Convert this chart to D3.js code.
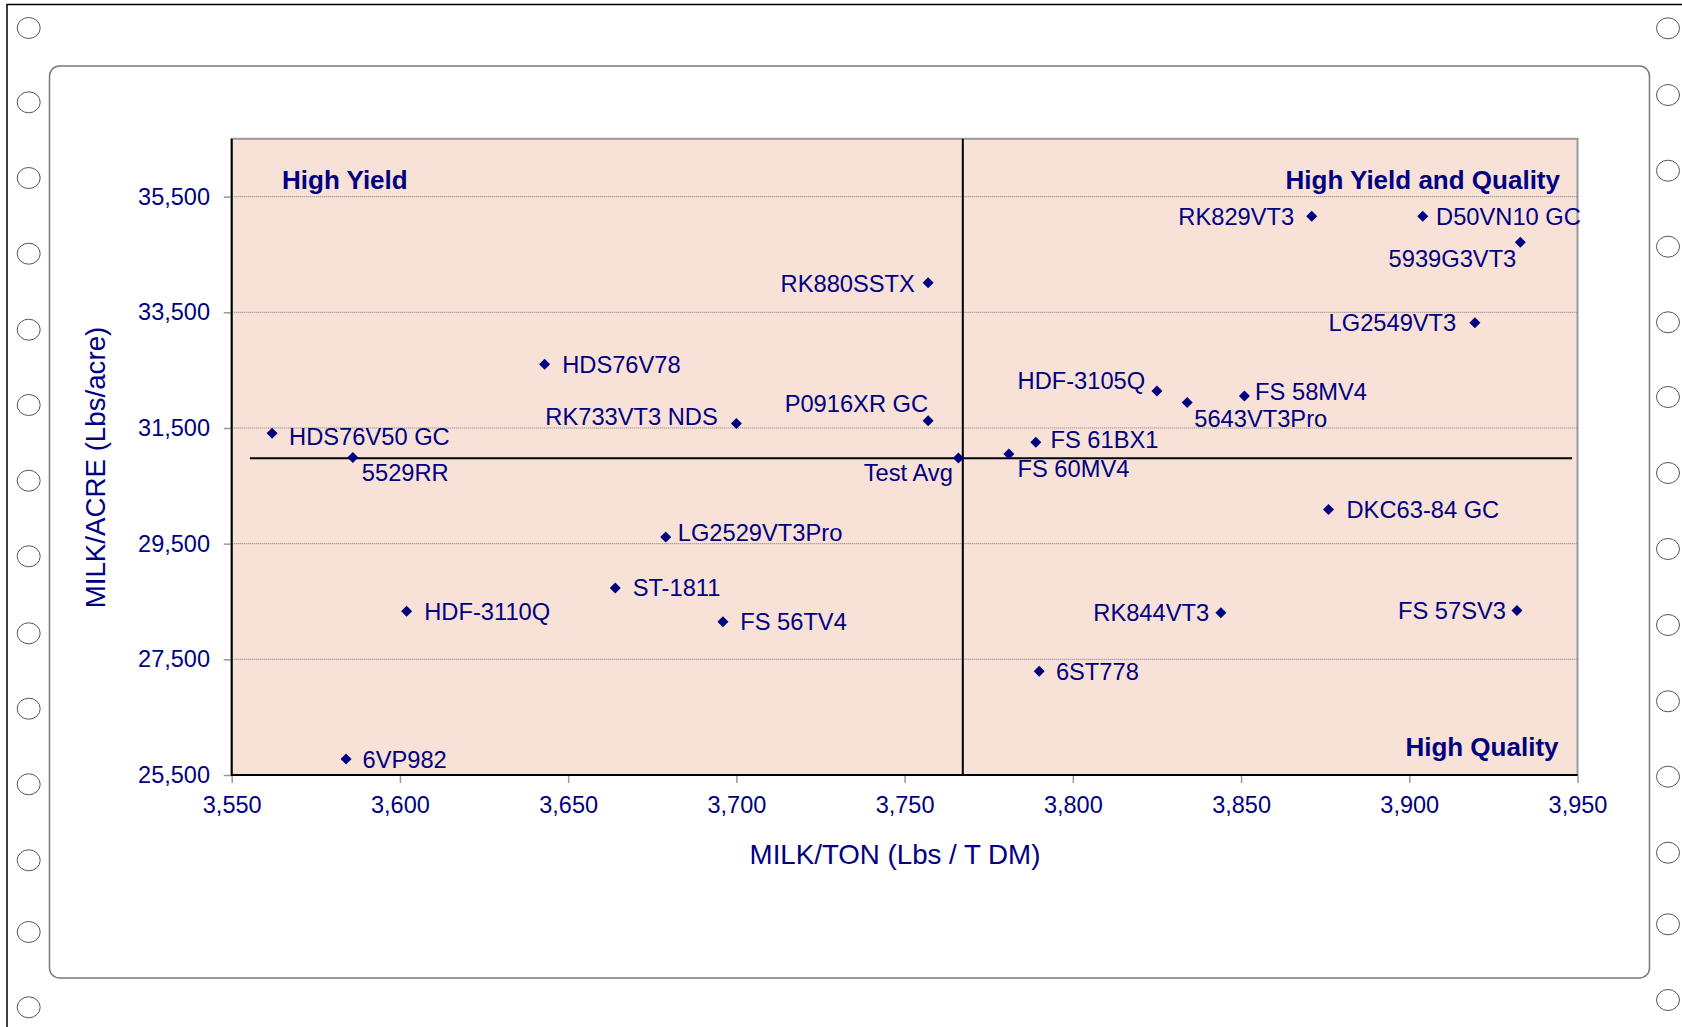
<!DOCTYPE html>
<html>
<head>
<meta charset="utf-8">
<script src="https://cdn.jsdelivr.net/npm/d3@7"></script>
<style>
  body { margin: 0; background: #fff; }
  text { font-family: "Liberation Sans", Arial, sans-serif; fill: #000080; }
</style>
</head>
<body>
<svg id="chart"></svg>
<script>
// hybrid names
const names = ['HDS76V50 GC', '5529RR', 'HDS76V78', 'RK733VT3 NDS', 'P0916XR GC', 'RK880SSTX',
    'Test Avg', 'LG2529VT3Pro', 'ST-1811', 'HDF-3110Q', 'FS 56TV4', '6VP982',
    'FS 60MV4', 'FS 61BX1', 'HDF-3105Q', '5643VT3Pro', 'FS 58MV4', 'DKC63-84 GC',
    'RK844VT3', 'FS 57SV3', '6ST778', 'RK829VT3', 'D50VN10 GC', '5939G3VT3', 'LG2549VT3'];
// milk per ton (x)
const milkTon = [3562, 3586, 3643, 3700, 3757, 3757,
    3766, 3679, 3664, 3602, 3696, 3584,
    3781, 3789, 3825, 3834, 3851, 3876,
    3844, 3932, 3790, 3871, 3904, 3933, 3919.5];
// milk per acre (y)
const milkAcre = [31407, 30988, 32603, 31579, 31626, 34010,
    30983, 29614, 28734, 28333, 28150, 25776,
    31052, 31252, 32138, 31941, 32052, 30091,
    28304, 28345, 27293, 35160, 35160, 34712, 33321];

// label placement (anchor + offset from the marker, px)
const labelAnchor = ['start', 'start', 'start', 'end', 'end', 'end',
    'end', 'start', 'start', 'start', 'start', 'start',
    'start', 'start', 'end', 'start', 'start', 'start',
    'end', 'end', 'start', 'end', 'start', 'end', 'end'];
const labelDx = [17, 9, 17.6, -18.6, 0, -13.3,
    -5.6, 12, 17.4, 17.6, 17.3, 16.4,
    8.6, 14.7, -11.7, 7, 10.7, 18,
    -11.7, -11, 16.7, -17.5, 13.3, -4, -18.6];
const labelDy = [3.6, 15, 0, -7, -17.7, 0.6,
    14.4, -4.4, 0, 0, 0, 0,
    14.7, -2.7, -10.3, 16.3, -4.8, 0,
    0, 0, 0, 0, 0, 16.3, 0];

// test average cross lines
const avgTon = 3767.3;
const avgAcre = 30975;
const avgLineTon = [3555.4, 3948.4];
const avgLineAcre = [25500, 36500];

// axes
const xDomain = [3550, 3950];
const yDomain = [25500, 36500];
const xTicks = [3550, 3600, 3650, 3700, 3750, 3800, 3850, 3900, 3950];
const yTicks = [25500, 27500, 29500, 31500, 33500, 35500];

const quadLabels = ['High Yield', 'High Yield and Quality', 'High Quality'];

// binder holes
const holesLeft = [28, 102.3, 178, 253.7, 329.7, 405, 480.7, 556.3, 633.3, 708.7, 784.3, 860.3, 932, 1007.3];
const holesRight = [28.3, 95, 170.7, 246.7, 322.3, 397, 473, 549, 625, 701.3, 776.7, 852.7, 924.3, 1000];

const width = 1682, height = 1027;
const plot = { left: 231.7, right: 1577.5, top: 138.8, bottom: 775 };
const navy = '#000080';

let svg = d3.select('#chart')
    .attr('width', width)
    .attr('height', height);

// page frame
svg.append('path')
    .attr('d', `M7,${height} V4.5 H${width}`)
    .attr('fill', 'none')
    .attr('stroke', '#000')
    .attr('stroke-width', 1.5);

svg.append('g').selectAll('ellipse')
    .data(holesLeft.map(y => [28.7, y]).concat(holesRight.map(y => [1668, y])))
    .enter().append('ellipse')
    .attr('cx', d => d[0])
    .attr('cy', d => d[1])
    .attr('rx', 11.5)
    .attr('ry', 10.5)
    .attr('fill', '#fff')
    .attr('stroke', '#555')
    .attr('stroke-width', 1);

// chart frame
svg.append('rect')
    .attr('x', 49.5)
    .attr('y', 66)
    .attr('width', 1600)
    .attr('height', 912)
    .attr('rx', 10)
    .attr('fill', '#fff')
    .attr('stroke', '#7a7a7a')
    .attr('stroke-width', 1.5);

let x = d3.scaleLinear().domain(xDomain).range([plot.left, plot.right]);
let y = d3.scaleLinear().domain(yDomain).range([plot.bottom, plot.top]);

// plot area
svg.append('rect')
    .attr('x', plot.left)
    .attr('y', plot.top)
    .attr('width', plot.right - plot.left)
    .attr('height', plot.bottom - plot.top)
    .attr('fill', '#f8e2d8')
    .attr('stroke', '#9a9a9a')
    .attr('stroke-width', 2);

// grid lines
svg.append('g').selectAll('line')
    .data(yTicks.slice(1))
    .enter().append('line')
    .attr('x1', plot.left)
    .attr('x2', plot.right)
    .attr('y1', d => y(d))
    .attr('y2', d => y(d))
    .attr('stroke', '#7a7a7a')
    .attr('stroke-width', 1)
    .attr('stroke-dasharray', '1,1');

// y axis
let axis_y = d3.axisLeft(y)
    .tickValues(yTicks)
    .tickFormat(d3.format(','))
    .tickSize(8)
    .tickPadding(13.7);
let gy = svg.append('g')
    .attr('transform', `translate(${plot.left},0)`)
    .call(axis_y);
gy.select('.domain').remove();
gy.selectAll('.tick line').attr('stroke', '#999').attr('stroke-width', 1.5);
gy.selectAll('.tick text')
    .attr('font-size', '23.5px')
    .attr('fill', navy)
    .attr('font-family', '"Liberation Sans", Arial, sans-serif');

// x axis
let axis_x = d3.axisBottom(x)
    .tickValues(xTicks)
    .tickFormat(d3.format(','))
    .tickSize(8)
    .tickPadding(13.3);
let gx = svg.append('g')
    .attr('transform', `translate(0,${plot.bottom})`)
    .call(axis_x);
gx.select('.domain').remove();
gx.selectAll('.tick line').attr('stroke', '#999').attr('stroke-width', 1.5);
gx.selectAll('.tick text')
    .attr('font-size', '23.5px')
    .attr('fill', navy)
    .attr('font-family', '"Liberation Sans", Arial, sans-serif');

// axis lines (left and bottom)
svg.append('path')
    .attr('d', `M${plot.left},${plot.top} V${plot.bottom} H${plot.right}`)
    .attr('fill', 'none')
    .attr('stroke', '#000')
    .attr('stroke-width', 2);

// axis titles
svg.append('text')
    .attr('x', 895)
    .attr('y', 864)
    .attr('text-anchor', 'middle')
    .attr('font-size', '27.7px')
    .text('MILK/TON (Lbs / T DM)');
svg.append('text')
    .attr('transform', 'translate(105,467.5) rotate(-90)')
    .attr('text-anchor', 'middle')
    .attr('font-size', '27.7px')
    .text('MILK/ACRE (Lbs/acre)');

// test average lines
svg.append('line')
    .attr('x1', x(avgLineTon[0]))
    .attr('x2', x(avgLineTon[1]))
    .attr('y1', y(avgAcre))
    .attr('y2', y(avgAcre))
    .attr('stroke', '#000')
    .attr('stroke-width', 2);
svg.append('line')
    .attr('x1', x(avgTon))
    .attr('x2', x(avgTon))
    .attr('y1', y(avgLineAcre[0]))
    .attr('y2', y(avgLineAcre[1]))
    .attr('stroke', '#000')
    .attr('stroke-width', 2);

// quadrant labels
svg.append('text')
    .attr('x', 282)
    .attr('y', 188.5)
    .attr('font-size', '26px')
    .attr('font-weight', 'bold')
    .text(quadLabels[0]);
svg.append('text')
    .attr('x', 1560)
    .attr('y', 188.5)
    .attr('text-anchor', 'end')
    .attr('font-size', '26px')
    .attr('font-weight', 'bold')
    .text(quadLabels[1]);
svg.append('text')
    .attr('x', 1558.5)
    .attr('y', 755.5)
    .attr('text-anchor', 'end')
    .attr('font-size', '26px')
    .attr('font-weight', 'bold')
    .text(quadLabels[2]);

// points
let points = names.map((n, i) => ({ name: n, ton: milkTon[i], acre: milkAcre[i], i: i }));
let r = 5.5;
svg.append('g').selectAll('path')
    .data(points)
    .enter().append('path')
    .attr('d', d => {
        let cx = x(d.ton), cy = y(d.acre);
        return `M${cx},${cy - r} L${cx + r},${cy} L${cx},${cy + r} L${cx - r},${cy} Z`;
    })
    .attr('fill', navy);

svg.append('g').selectAll('text')
    .data(points)
    .enter().append('text')
    .attr('x', d => x(d.ton) + labelDx[d.i])
    .attr('y', d => y(d.acre) + labelDy[d.i])
    .attr('dy', '0.36em')
    .attr('text-anchor', d => labelAnchor[d.i])
    .attr('font-size', '23.7px')
    .text(d => d.name);
</script>
</body>
</html>
